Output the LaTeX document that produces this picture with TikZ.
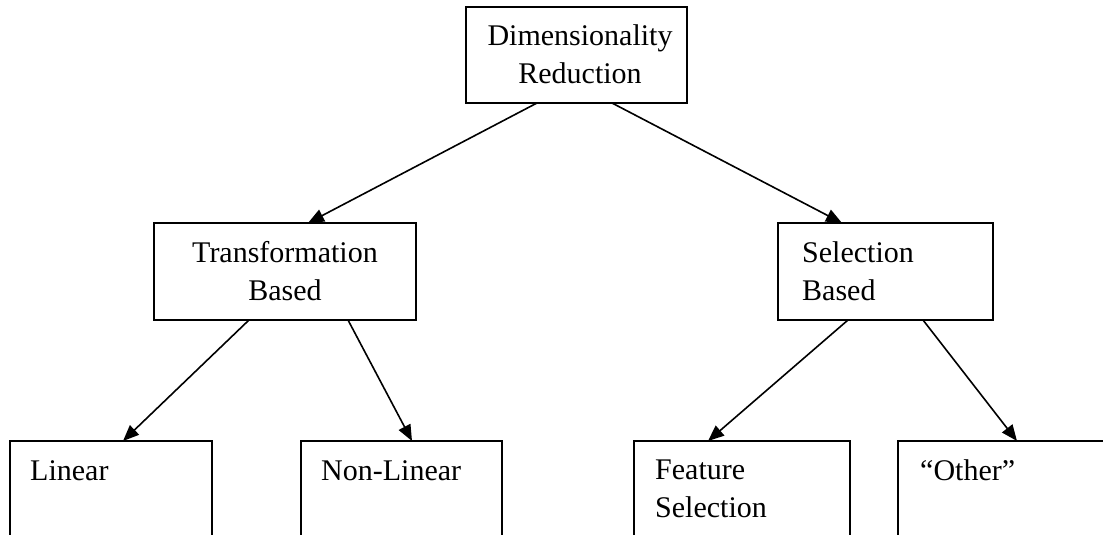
\documentclass[tikz,border=0pt]{standalone}
\usepackage{fontspec}
\setmainfont{Liberation Serif}
\usetikzlibrary{arrows.meta}

\begin{document}
\begin{tikzpicture}[x=1pt,y=-1pt,>={Triangle[length=16pt,width=13pt]},
    box/.style={draw,line width=2pt,inner sep=0pt,outer sep=0pt,anchor=north west},
    lbl/.style={inner sep=0pt,font=\fontsize{30}{38}\selectfont},
    link/.style={->,line width=1.6pt}]
        \useasboundingbox (0,0) rectangle (1103,535);
        \clip (0,0) rectangle (1103,535);
        % boxes
        \node[box,minimum width=221pt,minimum height=96pt] (dr) at (466,7) {};
        \node[box,minimum width=262pt,minimum height=97pt] (tb) at (154,223) {};
        \node[box,minimum width=215pt,minimum height=97pt] (sb) at (778,223) {};
        \node[box,minimum width=202pt,minimum height=120pt] (lin) at (10,441) {};
        \node[box,minimum width=201pt,minimum height=120pt] (nlin) at (301,441) {};
        \node[box,minimum width=216pt,minimum height=120pt] (fs) at (634,441) {};
        \node[box,minimum width=210pt,minimum height=120pt] (oth) at (898,441) {};
        % labels (base = last line)
        \node[lbl,align=center,anchor=base] (drtext) at (580,83) {Dimensionality\\Reduction};
        \node[lbl,align=center,anchor=base] (tbtext) at (285,300) {Transformation\\Based};
        \node[lbl,align=left,anchor=base west] (sbtext) at (802,300) {Selection\\Based};
        \node[lbl,anchor=base west] (lintext) at (30,480) {Linear};
        \node[lbl,anchor=base west] (nlintext) at (321,480) {Non-Linear};
        \node[lbl,align=left,anchor=base west] (fstext) at (655,517) {Feature\\Selection};
        \node[lbl,anchor=base west] (othtext) at (920,480) {“Other”};
        % arrows
        \foreach \a/\sa/\b/\sb in {dr/-39.5/tb/23, dr/35.5/sb/-43.5,
                                   tb/-36/lin/12, tb/63/nlin/10.5,
                                   sb/-37.5/fs/-34, sb/37.5/oth/14}
          \draw[link] ([xshift=\sa pt]\a.south) -- ([xshift=\sb pt]\b.north);
\end{tikzpicture}
\end{document}
